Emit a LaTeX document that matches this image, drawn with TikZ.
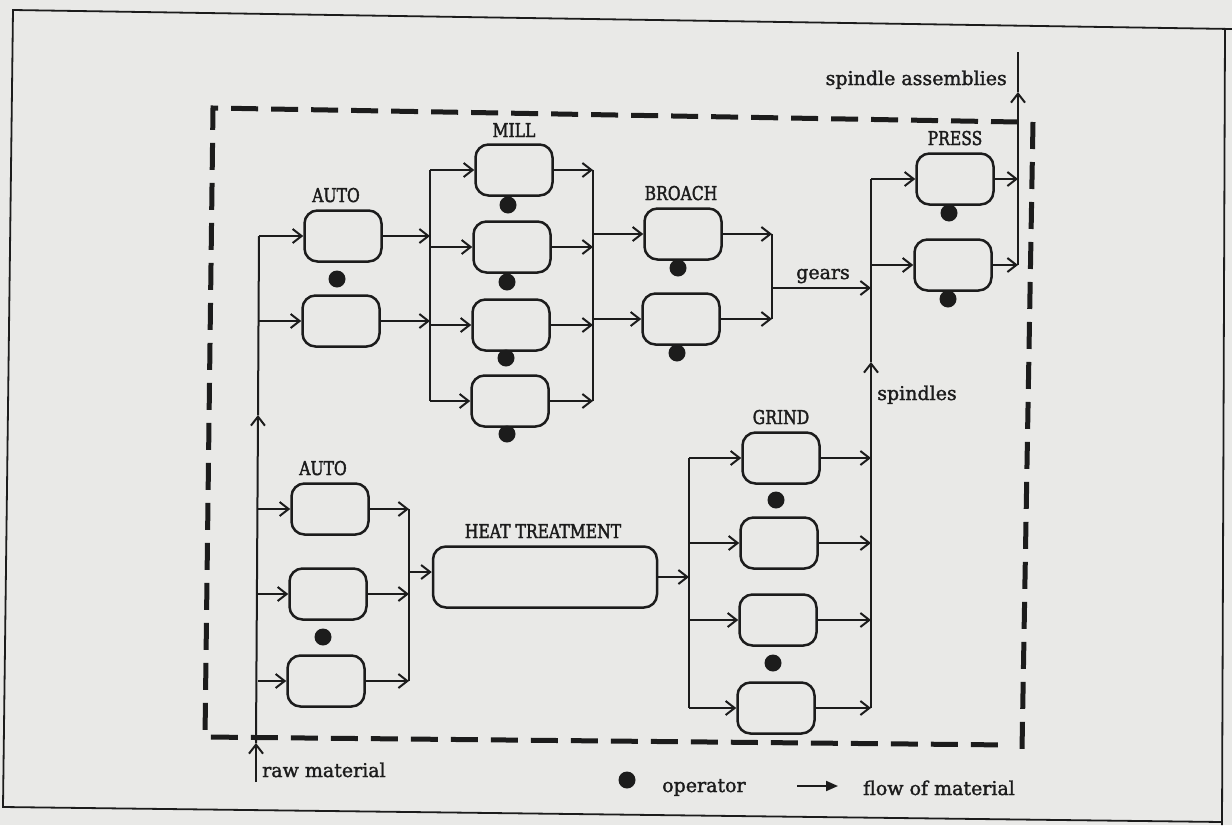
\documentclass[tikz,border=0pt]{standalone}
\usepackage{fontspec}
\setmainfont{DejaVu Serif}
\newfontfamily\capfont[FakeStretch=0.82,FakeBold=2]{DejaVu Serif}
\newfontfamily\lowfont[FakeBold=1.6]{DejaVu Serif}
\usetikzlibrary{arrows.meta}
\definecolor{paper}{RGB}{233,233,231}
\definecolor{ink}{RGB}{28,28,28}
\begin{document}
\begin{tikzpicture}[x=1pt,y=-1pt,
  mbox/.style={draw=ink,line width=2.5pt,rounded corners=13pt,minimum width=77pt,minimum height=51pt,inner sep=0pt},
  opdot/.style={circle,fill=ink,minimum size=17pt,inner sep=0pt},
  flow/.style={draw=ink,line width=2pt,-{Straight Barb[length=9pt,width=14pt]}},
  wire/.style={draw=ink,line width=2pt},
  bound/.style={draw=ink,line width=5pt,dash pattern=on 27pt off 13pt},
  framel/.style={draw=ink,line width=1.8pt},
  caplab/.style={font=\capfont\fontsize{19}{19}\selectfont,text=ink,inner sep=0pt,anchor=base},
  lowlab/.style={font=\lowfont\fontsize{19}{19}\selectfont,text=ink,inner sep=0pt,anchor=base}]
\fill[paper] (0,0) rectangle (1232,825);
\useasboundingbox (0,0) rectangle (1232,825);
% outer frame
\coordinate (fTL) at (13,10);
\coordinate (fTR) at (1232,29);
\coordinate (fRT) at (1225,28);
\coordinate (fRB) at (1222,825);
\coordinate (fBL) at (3,807);
\coordinate (fBR) at (1222,822);
\draw[framel] (fTR) -- (fTL) -- (fBL) -- (fBR);
\draw[framel] (fRT) -- (fRB);
% dashed boundary
\coordinate (dTR) at (1018,122);
\coordinate (dTL) at (213,108);
\coordinate (dBL) at (205,737);
\coordinate (dBR) at (1010,745);
\coordinate (dRT) at (1033,122);
\coordinate (dRB) at (1022,750);
\draw[bound] (dTR) -- (dTL) -- (dBL) -- (dBR);
\draw[bound] (dRT) -- (dRB);
% AUTO (top)
\node[mbox] (a1) at (343,236) {};
\node[mbox] (a2) at (341,321) {};
\node[opdot] (da) at (337,279) {};
\node[caplab] (la) at (336,202) {AUTO};
% MILL
\node[mbox] (m1) at (514,170) {};
\node[mbox] (m2) at (512,247) {};
\node[mbox] (m3) at (511,325) {};
\node[mbox] (m4) at (510,401) {};
\node[opdot] (dm1) at (508,205) {};
\node[opdot] (dm2) at (507,282) {};
\node[opdot] (dm3) at (506,358) {};
\node[opdot] (dm4) at (507,434) {};
\node[caplab] (lm) at (514,137) {MILL};
% BROACH
\node[mbox] (b1) at (683,234) {};
\node[mbox] (b2) at (681,319) {};
\node[opdot] (db1) at (678,268) {};
\node[opdot] (db2) at (677,353) {};
\node[caplab] (lb) at (681,200) {BROACH};
% PRESS
\node[mbox] (p1) at (955,179) {};
\node[mbox] (p2) at (953,265) {};
\node[opdot] (dp1) at (949,213) {};
\node[opdot] (dp2) at (948,299) {};
\node[caplab] (lp) at (955,145) {PRESS};
% AUTO (bottom)
\node[mbox] (c1) at (330,509) {};
\node[mbox] (c2) at (328,594) {};
\node[mbox] (c3) at (326,681) {};
\node[opdot] (dc) at (323,637) {};
\node[caplab] (lc) at (323,475) {AUTO};
% HEAT TREATMENT
\node[mbox,minimum width=224pt,minimum height=61pt] (h) at (545,577) {};
\node[caplab] (lh) at (543,538) {HEAT TREATMENT};
% GRIND
\node[mbox] (g1) at (781,458) {};
\node[mbox] (g2) at (779,543) {};
\node[mbox] (g3) at (778,620) {};
\node[mbox] (g4) at (776,708) {};
\node[opdot] (dg1) at (776,500) {};
\node[opdot] (dg2) at (773,663) {};
\node[caplab] (lg) at (781,424) {GRIND};
% raw material line
\coordinate (rawbot) at (256,782);
\coordinate (rawA) at (256,743);
\coordinate (rawB) at (258,415);
\coordinate (rawtop) at (259,236);
\draw[flow] (rawbot) -- (rawA);
\draw[flow] (rawA) -- (rawB);
\draw[wire] (rawB) -- (rawtop);
\draw[flow] (rawtop |- a1.west) -- (a1.west);
\draw[flow] (rawtop |- a2.west) -- (a2.west);
\foreach \n in {c1,c2,c3} \draw[flow] (rawB |- \n.west) -- (\n.west);
\node[lowlab,anchor=base west] (lraw) at (262,777) {raw material};
% mill in bus
\coordinate (mi) at (430,0);
\draw[wire] (m1.west -| mi) -- (m4.west -| mi);
\draw[flow] (a1.east) -- (a1.east -| mi);
\draw[flow] (a2.east) -- (a2.east -| mi);
\foreach \n in {m1,m2,m3,m4} \draw[flow] (\n.west -| mi) -- (\n.west);
% mill out bus
\coordinate (mo) at (593,0);
\draw[wire] (m1.east -| mo) -- (m4.east -| mo);
\foreach \n in {m1,m2,m3,m4} \draw[flow] (\n.east) -- (\n.east -| mo);
\draw[flow] (b1.west -| mo) -- (b1.west);
\draw[flow] (b2.west -| mo) -- (b2.west);
% broach out bus and gears
\coordinate (bo) at (772,0);
\draw[wire] (b1.east -| bo) -- (b2.east -| bo);
\draw[flow] (b1.east) -- (b1.east -| bo);
\draw[flow] (b2.east) -- (b2.east -| bo);
\coordinate (sp) at (871,0);
\coordinate (gy) at (772,288);
\draw[flow] (gy) -- (gy -| sp);
\node[lowlab] (lgears) at (823,279) {gears};
% auto2 out bus, heat treatment
\coordinate (ao) at (409,0);
\draw[wire] (c1.east -| ao) -- (c3.east -| ao);
\foreach \n in {c1,c2,c3} \draw[flow] (\n.east) -- (\n.east -| ao);
\coordinate (hin) at (409,572);
\draw[flow] (hin) -- (hin -| h.west);
% grind bus
\coordinate (gb) at (689,0);
\draw[flow] (h.east) -- (h.east -| gb);
\draw[wire] (g1.west -| gb) -- (g4.west -| gb);
\foreach \n in {g1,g2,g3,g4} \draw[flow] (\n.west -| gb) -- (\n.west);
% spindles
\foreach \n in {g1,g2,g3,g4} \draw[flow] (\n.east) -- (\n.east -| sp);
\coordinate (spA) at (871,362);
\draw[flow] (g4.east -| sp) -- (spA);
\draw[wire] (spA) -- (p1.west -| sp);
\draw[flow] (p1.west -| sp) -- (p1.west);
\draw[flow] (p2.west -| sp) -- (p2.west);
\node[lowlab] (lsp) at (917,400) {spindles};
% press out, spindle assemblies
\coordinate (po) at (1018,0);
\coordinate (poA) at (1018,92);
\coordinate (potop) at (1018,52);
\draw[flow] (p1.east) -- (p1.east -| po);
\draw[flow] (p2.east) -- (p2.east -| po);
\draw[flow] (p2.east -| po) -- (poA);
\draw[wire] (poA) -- (potop);
\node[lowlab,anchor=base east] (lsa) at (1007,85) {spindle assemblies};
% legend
\node[opdot] (ld) at (627,780) {};
\node[lowlab,anchor=base west] (lop) at (662,792) {operator};
\coordinate (lfa) at (797,786);
\coordinate (lfb) at (838,786);
\draw[wire,-{Triangle[length=12pt,width=10pt]}] (lfa) -- (lfb);
\node[lowlab,anchor=base west] (lfl) at (863,795) {flow of material};
\end{tikzpicture}
\end{document}
